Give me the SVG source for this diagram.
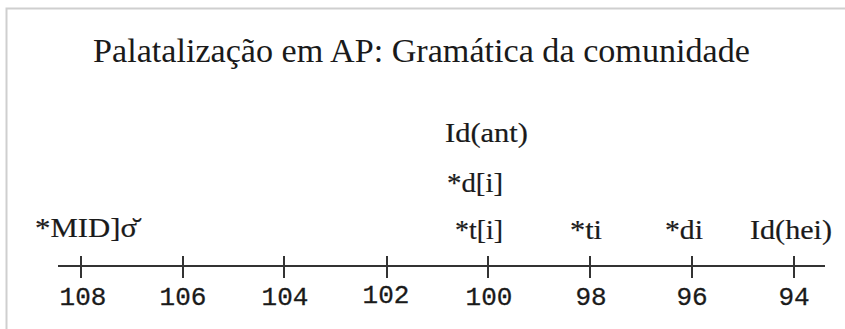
<svg xmlns="http://www.w3.org/2000/svg" width="845" height="329" viewBox="0 0 845 329">
<style>
.serif{font-family:"Liberation Serif","Times New Roman",serif;fill:#1a1a1a}
.mono{font-family:"Liberation Mono","Courier New",monospace;fill:#1a1a1a;font-size:26px;text-anchor:middle;stroke:#1a1a1a;stroke-width:0.3}
.lbl{font-size:27px;stroke:#1a1a1a;stroke-width:0.2}
.axis{stroke:#333;stroke-width:2;fill:none}
</style>
<rect x="0" y="0" width="845" height="329" fill="#fff"/>
<path d="M6.5 329 V8.5 H845" fill="none" stroke="#cfcfcf" stroke-width="2"/>
<g id="title"><text class="serif" x="93" y="62" font-size="33" textLength="657" lengthAdjust="spacingAndGlyphs">Palatalização em AP: Gramática da comunidade</text></g>
<g id="connectors">
<line class="axis" x1="58" y1="266" x2="825" y2="266"/>
<path class="axis" d="M81 256V278M183 256V278M284 256V278M387 256V278M488 256V278M590 256V278M692 256V278M794 256V278"/>
</g>
<g id="ticklabels">
<text class="mono" x="83" y="305">108</text>
<text class="mono" x="183" y="305">106</text>
<text class="mono" x="285" y="305">104</text>
<text class="mono" x="386" y="303">102</text>
<text class="mono" x="489" y="305">100</text>
<text class="mono" x="591" y="305">98</text>
<text class="mono" x="692" y="305">96</text>
<text class="mono" x="794" y="305">94</text>
</g>
<g id="node-mid"><text class="serif lbl" x="35" y="237" textLength="102" lengthAdjust="spacingAndGlyphs">*MID]σ̆</text></g>
<g id="node-idant"><text class="serif lbl" x="445" y="142" textLength="83" lengthAdjust="spacingAndGlyphs">Id(ant)</text></g>
<g id="node-di-br"><text class="serif lbl" x="447" y="192" textLength="56" lengthAdjust="spacingAndGlyphs">*d[i]</text></g>
<g id="node-ti-br"><text class="serif lbl" x="455" y="239" textLength="48" lengthAdjust="spacingAndGlyphs">*t[i]</text></g>
<g id="node-ti"><text class="serif lbl" x="570" y="239" textLength="32" lengthAdjust="spacingAndGlyphs">*ti</text></g>
<g id="node-di"><text class="serif lbl" x="665" y="239" textLength="38" lengthAdjust="spacingAndGlyphs">*di</text></g>
<g id="node-idhei"><text class="serif lbl" x="750" y="239" textLength="82" lengthAdjust="spacingAndGlyphs">Id(hei)</text></g>
</svg>
